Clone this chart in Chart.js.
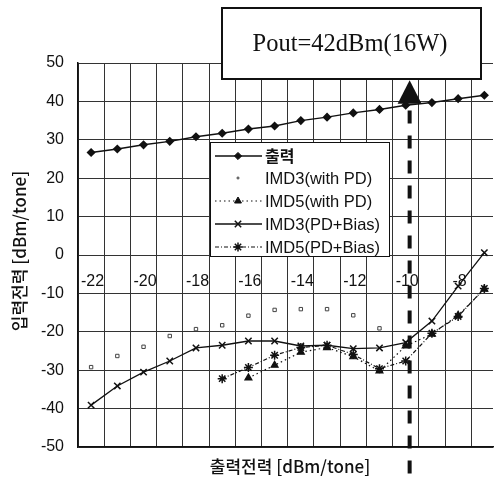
<!DOCTYPE html>
<html>
<head>
<meta charset="utf-8">
<script src="https://cdn.jsdelivr.net/npm/chart.js@4"></script>
<style>
  html, body { margin: 0; padding: 0; background: #fff; overflow: hidden; }
  canvas { display: block; }
</style>
</head>
<body>
<canvas id="chart" width="499" height="481"></canvas>
<script>
// input power steps (dBm/tone)
const xValues = [-22, -21, -20, -19, -18, -17, -16, -15, -14, -13, -12, -11, -10, -9, -8, -7];
const xTickLabels = ['-22', '-20', '-18', '-16', '-14', '-12', '-10', '-8'];
const xTickValues = [-22, -20, -18, -16, -14, -12, -10, -8];
const xGridValues = [-22.5, -21.5, -20.5, -19.5, -18.5, -17.5, -16.5, -15.5, -14.5, -13.5, -12.5, -11.5, -10.5, -9.5, -8.5, -7.5];
const yTicks = [50, 40, 30, 20, 10, 0, -10, -20, -30, -40, -50];

const outputPower = [26.7, 27.6, 28.7, 29.6, 30.8, 31.7, 32.8, 33.6, 35.0, 35.9, 37.0, 37.9, 39.0, 39.7, 40.7, 41.6];
const imd3WithPd = [-29.2, -26.3, -23.9, -21.1, -19.3, -18.3, -15.8, -14.3, -14.1, -14.1, -15.7, -19.1, null, null, null, null];
const imd5WithPd = [null, null, null, null, null, null, -32.0, -28.7, -25.3, -24.1, -26.5, -30.2, -23.7, -20.6, -15.7, -8.9];
const imd3Bias = [-39.1, -34.1, -30.5, -27.6, -24.2, -23.5, -22.4, -22.4, -23.7, -23.5, -24.4, -24.2, -22.8, -17.2, -8.1, 0.6];
const imd5Bias = [null, null, null, null, null, -32.2, -29.3, -26.1, -24.1, -23.5, -25.9, -29.6, -27.6, -20.4, -16.0, -8.7];

const seriesNames = ['출력', 'IMD3(with PD)', 'IMD5(with PD)', 'IMD3(PD+Bias)', 'IMD5(PD+Bias)'];
const xTitle = '출력전력 [dBm/tone]';
const yTitle = '입력전력 [dBm/tone]';
const noteText = 'Pout=42dBm(16W)';
const markerX = -9.85;

const INK = '#111';

function toPoints(values) {
  return xValues.map((x, i) => ({ x, y: values[i] }));
}

const datasets = [
  { label: seriesNames[0], data: toPoints(outputPower), borderColor: INK, backgroundColor: INK,
    borderWidth: 1.4, pointStyle: 'rectRot', pointRadius: 3.6 },
  { label: seriesNames[1], data: toPoints(imd3WithPd), borderColor: '#444', backgroundColor: '#fff',
    showLine: false, pointStyle: 'rect', pointRadius: 2.4, pointBorderWidth: 1 },
  { label: seriesNames[2], data: toPoints(imd5WithPd), borderColor: INK, backgroundColor: INK,
    borderWidth: 1.2, borderDash: [1.5, 3], pointStyle: 'triangle', pointRadius: 4 },
  { label: seriesNames[3], data: toPoints(imd3Bias), borderColor: INK, backgroundColor: INK,
    borderWidth: 1.3, pointStyle: 'crossRot', pointRadius: 4.5, pointBorderWidth: 1.5 },
  { label: seriesNames[4], data: toPoints(imd5Bias), borderColor: INK, backgroundColor: INK,
    borderWidth: 1.2, borderDash: [4, 2, 1, 2], pointStyle: 'star', pointRadius: 4.5, pointBorderWidth: 1.5 }
];
datasets.forEach(d => { d.fill = false; d.tension = 0; d.spanGaps = false; });

const overlay = {
  id: 'overlay',
  afterDatasetsDraw(chart) {
    const { ctx, scales: { x, y } } = chart;
    ctx.save();
    // x tick labels sit just under the 0 line, inside the plot
    ctx.fillStyle = INK;
    ctx.font = '16px "Liberation Sans", Arial, sans-serif';
    ctx.textAlign = 'center';
    ctx.textBaseline = 'middle';
    const labelY = y.getPixelForValue(0) + 27;
    xTickValues.forEach((v, i) => ctx.fillText(xTickLabels[i], x.getPixelForValue(v) + 1.5, labelY));

    // legend box
    const bx = 210, by = 142, bw = 179, bh = 114;
    ctx.fillStyle = '#fff';
    ctx.fillRect(bx, by, bw, bh);
    ctx.strokeStyle = INK;
    ctx.lineWidth = 1;
    ctx.strokeRect(bx + 0.5, by + 0.5, bw, bh);
    const rowY = [156, 178, 201, 224, 247];
    chart.data.datasets.forEach((ds, i) => {
      const yy = rowY[i];
      ctx.save();
      if (ds.showLine !== false) {
        ctx.strokeStyle = ds.borderColor;
        ctx.lineWidth = ds.borderWidth;
        ctx.setLineDash(ds.borderDash || []);
        ctx.beginPath();
        ctx.moveTo(215, yy);
        ctx.lineTo(262, yy);
        ctx.stroke();
      }
      ctx.restore();
      ctx.save();
      ctx.strokeStyle = ds.borderColor;
      ctx.fillStyle = ds.backgroundColor;
      ctx.lineWidth = ds.pointBorderWidth || 1;
      Chart.helpers.drawPoint(ctx, { pointStyle: ds.pointStyle, radius: ds.showLine === false ? 1.2 : ds.pointRadius, borderWidth: ds.pointBorderWidth || 1 }, 238, yy);
      ctx.restore();
      ctx.fillStyle = INK;
      ctx.textAlign = 'left';
      ctx.textBaseline = 'middle';
      ctx.font = i === 0 ? 'bold 16px "Noto Sans CJK KR", sans-serif' : '16.5px "Liberation Sans", Arial, sans-serif';
      ctx.fillText(ds.label, 265, yy + (i === 0 ? 0 : 1));
    });
    ctx.restore();
  },
  afterDraw(chart) {
    const { ctx, scales: { x, y } } = chart;
    ctx.save();
    // axis titles
    ctx.fillStyle = INK;
    ctx.font = '500 17px "Noto Sans CJK KR", sans-serif';
    ctx.textAlign = 'center';
    ctx.textBaseline = 'middle';
    ctx.fillText(xTitle, 290, 467);
    ctx.save();
    ctx.translate(20, 251);
    ctx.rotate(-Math.PI / 2);
    ctx.fillText(yTitle, 0, 0);
    ctx.restore();

    // dashed marker line and arrow at Pout = 42 dBm
    const mx = x.getPixelForValue(markerX);
    ctx.strokeStyle = INK;
    ctx.lineWidth = 4;
    ctx.setLineDash([13, 12]);
    ctx.beginPath();
    ctx.moveTo(mx, y.getPixelForValue(37.6));
    ctx.lineTo(mx, 478);
    ctx.stroke();
    ctx.setLineDash([]);
    ctx.fillStyle = INK;
    ctx.beginPath();
    ctx.moveTo(mx, y.getPixelForValue(45.5));
    ctx.lineTo(mx - 12, y.getPixelForValue(39.4));
    ctx.lineTo(mx + 12, y.getPixelForValue(39.4));
    ctx.closePath();
    ctx.fill();

    // note box
    ctx.fillStyle = '#fff';
    ctx.fillRect(222, 8, 259, 71);
    ctx.lineWidth = 2;
    ctx.strokeRect(222, 8, 259, 71);
    ctx.fillStyle = INK;
    ctx.font = '24.5px "Liberation Serif", "DejaVu Serif", serif';
    ctx.textAlign = 'center';
    ctx.textBaseline = 'middle';
    ctx.fillText(noteText, 350, 45);
    ctx.restore();
  }
};

new Chart(document.getElementById('chart').getContext('2d'), {
  type: 'line',
  data: { datasets },
  options: {
    responsive: false,
    animation: false,
    layout: { padding: { top: 63, left: 0, right: 0, bottom: 0 } },
    plugins: { legend: { display: false }, tooltip: { enabled: false } },
    scales: {
      x: {
        type: 'linear',
        min: -22.5,
        max: -6.67,
        afterBuildTicks(scale) { scale.ticks = xGridValues.map(v => ({ value: v })); },
        afterFit(scale) { scale.height = 34; },
        ticks: { display: false },
        grid: { color: '#333', lineWidth: 1, drawTicks: false },
        border: { color: INK, width: 1.5 }
      },
      y: {
        min: -50,
        max: 50,
        afterBuildTicks(scale) { scale.ticks = yTicks.map(v => ({ value: v })); },
        afterFit(scale) { scale.width = 78; },
        ticks: {
          color: INK,
          padding: 14,
          font: { family: '"Liberation Sans", Arial, sans-serif', size: 16 },
          callback: v => String(v)
        },
        grid: { color: '#333', lineWidth: 1, drawTicks: false },
        border: { color: INK, width: 1.5 }
      }
    }
  },
  plugins: [overlay]
});
</script>
</body>
</html>
